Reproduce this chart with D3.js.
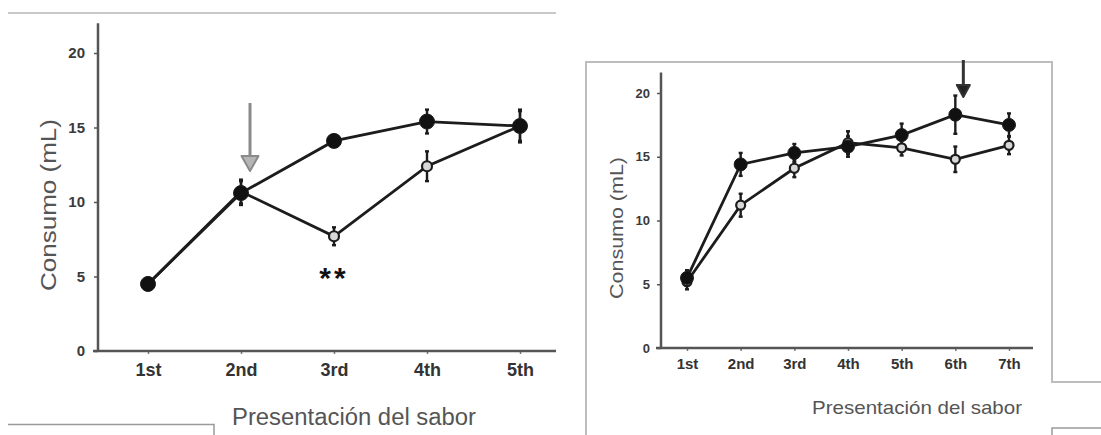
<!DOCTYPE html>
<html>
<head>
<meta charset="utf-8">
<script src="https://cdn.jsdelivr.net/npm/d3@7"></script>
<style>
  html, body { margin: 0; padding: 0; background: #fff; }
  svg { display: block; }
  text { font-family: "Liberation Sans", Arial, sans-serif; }
</style>
</head>
<body>
<svg id="chart" width="1101" height="435"></svg>
<script>
// Panel A: five presentations
const catsA = ["1st", "2nd", "3rd", "4th", "5th"];
const filledA = [4.5, 10.6, 14.1, 15.4, 15.1];
const filledErrA = [0.4, 0.8, 0.3, 0.8, 1.0];
const openA = [4.5, 10.7, 7.7, 12.4, 15.1];
const openErrA = [0.4, 0.8, 0.6, 1.0, 1.1];

// Panel B: seven presentations
const catsB = ["1st", "2nd", "3rd", "4th", "5th", "6th", "7th"];
const filledB = [5.5, 14.4, 15.3, 15.8, 16.7, 18.3, 17.5];
const filledErrB = [0.6, 0.9, 0.7, 0.8, 0.9, 1.5, 0.9];
const openB = [5.2, 11.2, 14.1, 16.1, 15.7, 14.8, 15.9];
const openErrB = [0.6, 0.9, 0.7, 0.9, 0.6, 1.0, 0.7];

const yTicks = [0, 5, 10, 15, 20];
const yTitle = "Consumo (mL)";
const xTitle = "Presentación del sabor";

const svg = d3.select("#chart");

// decorative page rules around the two figures
const rule = svg.append("g").attr("fill", "none").attr("stroke", "#c8c8c8").attr("stroke-width", 2);
rule.append("path").attr("d", "M8,13H556");
rule.append("path").attr("d", "M8,424.5H214V435").attr("stroke", "#9a9a9a").attr("stroke-width", 1.5);
rule.append("path").attr("d", "M586,435V62H1052V382H1101").attr("stroke", "#bdbdbd");
rule.append("path").attr("d", "M1101,428H1052V435").attr("stroke", "#9a9a9a").attr("stroke-width", 1.5);

function panel(cfg) {
  const g = svg.append("g");
  const x = d3.scalePoint().domain(cfg.cats).range(cfg.xRange);
  const y = d3.scaleLinear().domain([0, 20]).range(cfg.yRange);

  // axes
  const yAxis = g.append("g").attr("transform", `translate(${cfg.axisX},0)`)
    .call(d3.axisLeft(y).tickValues(yTicks).tickSize(4).tickPadding(cfg.yPad));
  yAxis.select(".domain").remove();
  yAxis.selectAll(".tick line").attr("stroke", "#555").attr("stroke-width", 1.5);
  yAxis.selectAll(".tick text").attr("font-size", cfg.yTickFont).attr("fill", "#3a3a3a")
    .attr("font-weight", "bold");

  const xAxis = g.append("g").attr("transform", `translate(0,${y(0)})`)
    .call(d3.axisBottom(x).tickSize(3).tickPadding(cfg.xPad));
  xAxis.select(".domain").remove();
  xAxis.selectAll(".tick line").attr("stroke", "#777").attr("stroke-width", 1.5);
  xAxis.selectAll(".tick text").attr("font-size", cfg.xTickFont).attr("fill", "#333")
    .attr("font-weight", "bold");

  g.append("line").attr("x1", cfg.axisX).attr("x2", cfg.axisX)
    .attr("y1", y(0) + 1).attr("y2", y(cfg.yTop))
    .attr("stroke", "#555").attr("stroke-width", 2.5);
  g.append("line").attr("x1", cfg.axisX - 5).attr("x2", cfg.xEnd)
    .attr("y1", y(0)).attr("y2", y(0))
    .attr("stroke", "#555").attr("stroke-width", 2.5);

  // titles
  g.append("text").attr("transform", `translate(${cfg.yTitleX},${cfg.yTitleY}) rotate(-90)`)
    .attr("text-anchor", "middle").attr("font-size", cfg.yTitleFont).attr("fill", "#555")
    .attr("textLength", cfg.yTitleLen).attr("lengthAdjust", "spacingAndGlyphs")
    .text(yTitle);
  g.append("text").attr("x", cfg.xTitleX).attr("y", cfg.xTitleY)
    .attr("text-anchor", "middle").attr("font-size", cfg.xTitleFont).attr("fill", "#555")
    .attr("textLength", cfg.xTitleLen).attr("lengthAdjust", "spacingAndGlyphs")
    .text(xTitle);

  const line = d3.line().x((d, i) => x(cfg.cats[i])).y(d => y(d));
  const series = [
    { v: cfg.open, e: cfg.openErr, open: true },
    { v: cfg.filled, e: cfg.filledErr, open: false }
  ];

  series.forEach(s => {
    g.append("path").datum(s.v).attr("d", line)
      .attr("fill", "none").attr("stroke", "#1c1c1c").attr("stroke-width", 2.8);
  });

  series.forEach(s => {
    const eb = g.append("g").attr("stroke", "#1c1c1c").attr("stroke-width", 2.4);
    s.v.forEach((v, i) => {
      const cx = x(cfg.cats[i]);
      eb.append("line").attr("x1", cx).attr("x2", cx)
        .attr("y1", y(v - s.e[i])).attr("y2", y(v + s.e[i]));
      [v - s.e[i], v + s.e[i]].forEach(w => {
        eb.append("line").attr("x1", cx - 2).attr("x2", cx + 2).attr("y1", y(w)).attr("y2", y(w));
      });
    });
  });

  series.forEach(s => {
    g.append("g").selectAll("circle").data(s.v).join("circle")
      .attr("cx", (d, i) => x(cfg.cats[i])).attr("cy", d => y(d))
      .attr("r", s.open ? cfg.rOpen : cfg.rFilled)
      .attr("fill", s.open ? "#d8d8d8" : "#111")
      .attr("stroke", "#1c1c1c").attr("stroke-width", s.open ? 2.2 : 1);
  });

  // treatment arrow
  const ax = x(cfg.cats[cfg.arrowAt]) + cfg.arrowDx;
  g.append("line").attr("x1", ax).attr("x2", ax)
    .attr("y1", cfg.arrowTop).attr("y2", cfg.arrowTip - cfg.headH + 2)
    .attr("stroke", cfg.arrowColor).attr("stroke-width", 3);
  g.append("path")
    .attr("d", `M${ax - cfg.headW / 2},${cfg.arrowTip - cfg.headH}L${ax + cfg.headW / 2},${cfg.arrowTip - cfg.headH}L${ax},${cfg.arrowTip}Z`)
    .attr("fill", cfg.arrowFill).attr("stroke", cfg.arrowColor).attr("stroke-width", 2)
    .attr("stroke-linejoin", "round");

  return { x, y, g };
}

const A = panel({
  cats: catsA, filled: filledA, filledErr: filledErrA, open: openA, openErr: openErrA,
  xRange: [148, 520], yRange: [351, 53], axisX: 98, yTop: 22, xEnd: 556,
  yPad: 9, yTickFont: 15, xPad: 9, xTickFont: 18,
  yTitleX: 56, yTitleY: 205, yTitleFont: 22, yTitleLen: 172,
  xTitleX: 354, xTitleY: 425, xTitleFont: 23, xTitleLen: 244,
  rFilled: 7.5, rOpen: 5,
  arrowAt: 1, arrowDx: 9, arrowTop: 103, arrowTip: 171, headW: 17, headH: 15,
  arrowColor: "#8a8a8a", arrowFill: "#b5b5b5"
});

// significance marker under the third presentation
A.g.append("text").attr("x", A.x("3rd")).attr("y", A.y(openA[2]) + 52)
  .attr("text-anchor", "middle").attr("font-size", 30).attr("font-weight", "bold")
  .attr("letter-spacing", 3).attr("fill", "#111").text("**");

panel({
  cats: catsB, filled: filledB, filledErr: filledErrB, open: openB, openErr: openErrB,
  xRange: [687, 1009], yRange: [348, 93], axisX: 661, yTop: 21.6, xEnd: 1033,
  yPad: 7, yTickFont: 13, xPad: 7, xTickFont: 15,
  yTitleX: 623, yTitleY: 228, yTitleFont: 18, yTitleLen: 142,
  xTitleX: 917, xTitleY: 414, xTitleFont: 19, xTitleLen: 210,
  rFilled: 6.5, rOpen: 4.5,
  arrowAt: 5, arrowDx: 8, arrowTop: 60, arrowTip: 97, headW: 13, headH: 12,
  arrowColor: "#333", arrowFill: "#222"
});
</script>
</body>
</html>
